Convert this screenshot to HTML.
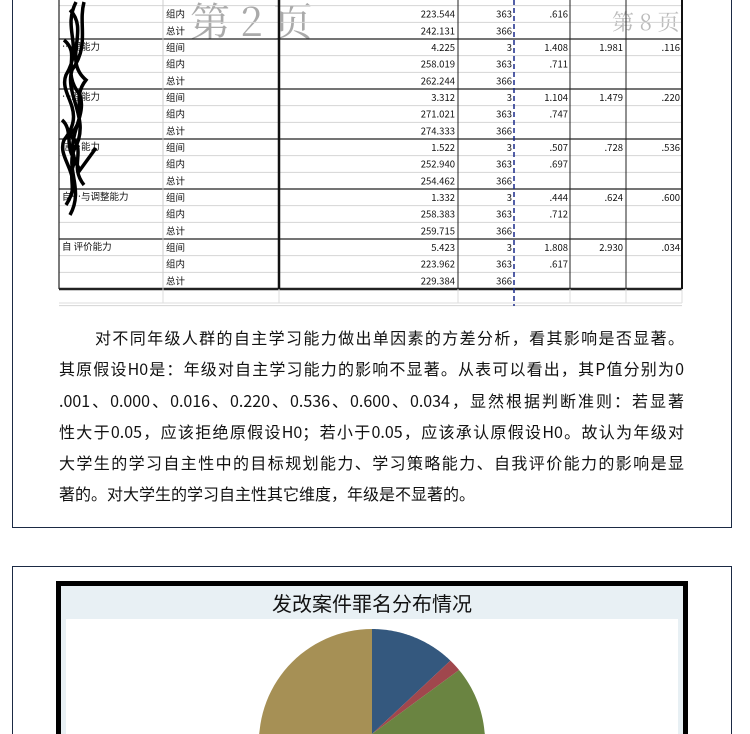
<!DOCTYPE html>
<html><head><meta charset="utf-8"><style>
html,body{margin:0;width:750px;height:734px;overflow:hidden}
body{background:#fff;position:relative;font-family:"Liberation Sans","Noto Sans CJK SC",sans-serif}
.ln{position:absolute;left:59px;width:625px;font-size:16px;line-height:20px;color:#111;text-align:justify;text-align-last:justify;white-space:nowrap;font-family:"Noto Sans CJK SC",sans-serif}
</style></head><body>
<div style="position:absolute;left:12px;top:0;width:720px;height:528px;border:1px solid #1b2a44;border-top:none;box-sizing:border-box"></div>
<svg width="750" height="320" style="position:absolute;left:0;top:0" id="tbl"></svg>
<div class="ln" style="top:327px;left:95px;width:589px">对不同年级人群的自主学习能力做出单因素的方差分析，看其影响是否显著。</div>
<div class="ln" style="top:358px">其原假设H0是：年级对自主学习能力的影响不显著。从表可以看出，其P值分别为0</div>
<div class="ln" style="top:390px">.001、0.000、0.016、0.220、0.536、0.600、0.034，显然根据判断准则：若显著</div>
<div class="ln" style="top:421px">性大于0.05，应该拒绝原假设H0；若小于0.05，应该承认原假设H0。故认为年级对</div>
<div class="ln" style="top:452px">大学生的学习自主性中的目标规划能力、学习策略能力、自我评价能力的影响是显</div>
<div class="ln" style="top:483px;text-align-last:left;width:auto">著的。对大学生的学习自主性其它维度，年级是不显著的。</div>
<div style="position:absolute;left:12px;top:566px;width:720px;height:168px;border:1px solid #1b2a44;border-bottom:none;box-sizing:border-box"></div>
<div style="position:absolute;left:56px;top:581px;width:632px;height:153px;border:5px solid #000;border-bottom:none;box-sizing:border-box;background:#e8f0f4"></div>
<div style="position:absolute;left:66px;top:619px;width:612px;height:115px;background:#fff"></div>
<div style="position:absolute;left:56px;width:632px;top:591px;text-align:center;font-size:20px;line-height:28px;color:#111">发改案件罪名分布情况</div>
<svg width="750" height="734" style="position:absolute;left:0;top:0;overflow:hidden" id="pie"></svg>
<script>
const pieValues=[12.2,1.8,36,50];
const pieColors=['#34587e','#a0474d','#6a8441','#a69055'];
const pieNames=['slice-1','slice-2','slice-3','slice-4'];
(function(){
 const s=document.getElementById('pie'),ns='http://www.w3.org/2000/svg';
 const cx=372,cy=742,r=113,ymax=734,tot=pieValues.reduce((a,b)=>a+b,0);let a0=0;
 pieValues.forEach((v,i)=>{const a1=a0+v/tot*2*Math.PI;
  const pts=[[cx,Math.min(cy,ymax)]];const n=60;
  for(let k=0;k<=n;k++){const a=a0+(a1-a0)*k/n;pts.push([cx+r*Math.sin(a),Math.min(ymax,cy-r*Math.cos(a))]);}
  const p=document.createElementNS(ns,'polygon');
  p.setAttribute('points',pts.map(q=>q[0].toFixed(2)+','+q[1].toFixed(2)).join(' '));
  p.setAttribute('fill',pieColors[i]);
  
  
  s.appendChild(p);a0=a1;});
})();
const groupLabels=['','…理能力','…理能力','信…能力','自…与调整能力','自 评价能力'];
const ssVals=[['','223.544','242.131'],['4.225','258.019','262.244'],['3.312','271.021','274.333'],['1.522','252.940','254.462'],['1.332','258.383','259.715'],['5.423','223.962','229.384']];
const dfVals=['3','363','366'];
const msVals=[['','.616'],['1.408','.711'],['1.104','.747'],['.507','.697'],['.444','.712'],['1.808','.617']];
const fVals=['','1.981','1.479','.728','.624','2.930'];
const pVals=['','.116','.220','.536','.600','.034'];
(function(){
 const s=document.getElementById('tbl'),ns='http://www.w3.org/2000/svg';
 function el(t,at,txt){const e=document.createElementNS(ns,t);for(const k in at)e.setAttribute(k,at[k]);if(txt!==undefined)e.textContent=txt;s.appendChild(e);return e;}
 const rh=50/3,top=-11;
 el('text',{x:190,y:36,'font-size':40,fill:'#aaa','font-family':'Noto Serif CJK SC,serif',},'第 2 页');
 el('text',{x:612,y:30,'font-size':22,fill:'#bbb','font-family':'Noto Serif CJK SC,serif',},'第 8 页');
 el('rect',{x:683,y:0,width:40,height:40,fill:'#fff'});
 for(let i=1;i<=19;i++){const y=top+i*rh;const g=(i%3==0)&&i<=18;
  el('line',{x1:59,x2:682,y1:y,y2:y,stroke:g?'#222':'#d4d4d4','stroke-width':i==18?2.5:(g?1.3:1)});}
 el('line',{x1:59,x2:682,y1:303,y2:303,stroke:'#ddd'});
 [[59,'#222',1.2,289],[163,'#ccc',1,303],[279,'#111',2.5,289],[458,'#222',1,289],[570,'#222',1,289],[626,'#222',1,289],[682,'#111',2,289]].forEach(c=>el('line',{x1:c[0],x2:c[0],y1:0,y2:c[3],stroke:c[1],'stroke-width':c[2]}));
 [163,279,458,570,626,682].forEach(x=>el('line',{x1:x,x2:x,y1:289,y2:303,stroke:'#ddd'}));
 el('line',{x1:514,x2:514,y1:0,y2:306,stroke:'#1a2a8a','stroke-width':1.5,'stroke-dasharray':'5,3'});
 const fs={'font-size':9.5,fill:'#111','font-family':'Noto Sans CJK SC,sans-serif'};
 for(let g=0;g<6;g++){
  const y0=top+g*3*rh;
  if(groupLabels[g])el('text',Object.assign({x:62,y:y0+11},fs),groupLabels[g]);
  ['组间','组内','总计'].forEach((t,k)=>{const y=y0+k*rh+12;if(y<3)return;
   el('text',Object.assign({x:166,y},fs),t);
   if(ssVals[g][k])el('text',Object.assign({x:455,y,'text-anchor':'end'},fs),ssVals[g][k]);
   el('text',Object.assign({x:512,y,'text-anchor':'end'},fs),dfVals[k]);
   if(k<2&&msVals[g][k])el('text',Object.assign({x:568,y,'text-anchor':'end'},fs),msVals[g][k]);
   if(k==0&&fVals[g])el('text',Object.assign({x:623,y,'text-anchor':'end'},fs),fVals[g]);
   if(k==0&&pVals[g])el('text',Object.assign({x:680,y,'text-anchor':'end'},fs),pVals[g]);
  });
 }
 el('path',{d:'M76,2 C62,30 84,45 66,75 C58,95 88,110 64,140 C56,160 86,175 66,205 M84,2 C78,25 90,45 72,70 C64,95 92,120 74,150 C66,170 84,190 70,215 M64,40 C82,55 60,70 80,95 C88,120 60,140 80,170 L96,148 M70,10 C90,30 62,60 86,80 C70,100 90,115 70,135 C88,150 68,165 84,185 M62,120 C74,130 64,150 76,160 C66,175 78,190 68,200',fill:'none',stroke:'#000','stroke-width':3.5,});
})();
</script>
</body></html>
